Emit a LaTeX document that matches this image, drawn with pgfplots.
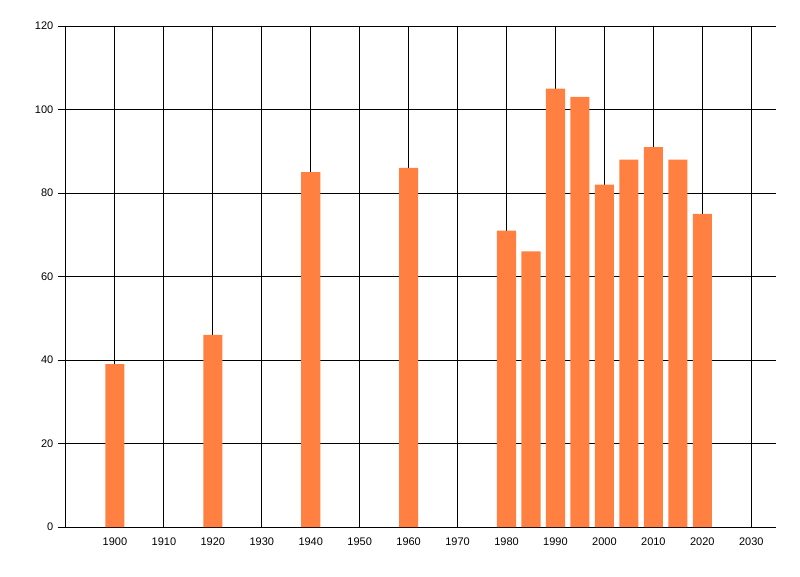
\documentclass[border=0pt]{standalone}
\usepackage{pgfplots}
\pgfplotsset{compat=1.18}
\usepackage{fontspec}
\setmainfont{Liberation Sans}
\definecolor{barorange}{RGB}{255,128,64}
\begin{document}
\begin{tikzpicture}
\path[use as bounding box] (-49.5pt,-36.75pt) rectangle (550.5pt,395.25pt);
\begin{axis}[
  at={(0,0)}, anchor=south west,
  scale only axis,
  width=532.3pt, height=375.75pt,
  xmin=1890, xmax=2035,
  ymin=0, ymax=120,
  axis lines=left,
  axis line style={-, line width=0.75pt, black},
  xtick={1900,1910,...,2030},
  ytick={0,20,...,120},
  xticklabel style={/pgf/number format/1000 sep={}},
  x tick label style={font=\fontsize{8.25}{10}\selectfont, yshift=1.5pt},
  y tick label style={font=\fontsize{8.25}{10}\selectfont},
  /pgf/number format/assume math mode=true,
  xtick style={draw=none},
  ytick style={line width=0.75pt, black},
  tick align=outside,
  major tick length=6pt,
  grid=major,
  major grid style={line width=0.75pt, black},
  axis on top=false,
]
\addplot[ybar, bar width=3.9, fill=barorange, draw=none] coordinates {
  (1900,39) (1920,46) (1940,85) (1960,86) (1980,71) (1985,66)
  (1990,105) (1995,103) (2000,82) (2005,88) (2010,91) (2015,88) (2020,75)
};
\end{axis}
\end{tikzpicture}
\end{document}
